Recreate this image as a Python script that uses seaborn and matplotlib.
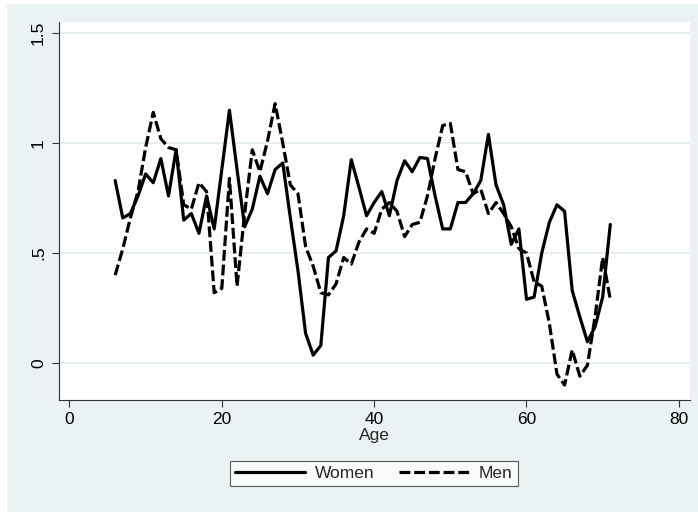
import numpy as np
import pandas as pd
import seaborn as sns
import matplotlib.pyplot as plt
from matplotlib.lines import Line2D
from matplotlib.patches import Rectangle

# ages 6..71
age = list(range(6, 72))

women = [0.83, 0.66, 0.68, 0.76, 0.86, 0.82, 0.93, 0.76, 0.97, 0.65,
         0.68, 0.59, 0.76, 0.61, 0.88, 1.15, 0.88, 0.62, 0.70, 0.85,
         0.77, 0.88, 0.91, 0.66, 0.42, 0.135, 0.036, 0.08, 0.48, 0.51,
         0.67, 0.925, 0.80, 0.67, 0.73, 0.78, 0.67, 0.83, 0.92, 0.87,
         0.935, 0.93, 0.76, 0.61, 0.61, 0.73, 0.73, 0.77, 0.83, 1.04,
         0.81, 0.72, 0.54, 0.61, 0.29, 0.30, 0.50, 0.64, 0.72, 0.69,
         0.33, 0.21, 0.097, 0.165, 0.30, 0.63]

men = [0.40, 0.52, 0.66, 0.78, 0.98, 1.14, 1.02, 0.98, 0.97, 0.72,
       0.70, 0.82, 0.78, 0.32, 0.34, 0.84, 0.35, 0.68, 0.97, 0.87,
       1.01, 1.18, 1.00, 0.81, 0.77, 0.53, 0.44, 0.32, 0.31, 0.36,
       0.48, 0.45, 0.55, 0.61, 0.59, 0.70, 0.73, 0.69, 0.575, 0.63,
       0.64, 0.76, 0.93, 1.08, 1.09, 0.88, 0.87, 0.77, 0.79, 0.68,
       0.73, 0.68, 0.62, 0.52, 0.50, 0.37, 0.35, 0.18, -0.05, -0.10,
       0.06, -0.06, -0.01, 0.21, 0.48, 0.29]

x_ticks = [0, 20, 40, 60, 80]
y_ticks = [0, 0.5, 1, 1.5]
y_ticklabels = ["0", ".5", "1", "1.5"]

df = pd.DataFrame({
    "Age": age * 2,
    "value": women + men,
    "group": ["Women"] * len(age) + ["Men"] * len(age),
})

bg = "#eaf2f3"
fs = 12.5
sns.set_style("white")
plt.rcParams["font.family"] = ["Liberation Sans", "DejaVu Sans"]

fig = plt.figure(figsize=(6.98, 5.12), dpi=100, facecolor="white")
fig.patches.append(Rectangle((7 / 698, 0), 1 - 7 / 698, 1 - 4 / 512,
                             transform=fig.transFigure, facecolor=bg,
                             edgecolor="none", zorder=-10))
ax = fig.add_axes([58.5 / 698, 1 - 400 / 512, (689.5 - 58.5) / 698, (400 - 22) / 512])
ax.set_facecolor("white")

sns.lineplot(data=df, x="Age", y="value", style="group",
             dashes={"Women": "", "Men": (3.4, 1.2)},
             color="black", linewidth=2.3, legend=False, ax=ax)

ax.set_xlim(-1.44, 81.4)
ax.set_ylim(-0.168, 1.551)
ax.set_xticks(x_ticks)
ax.set_yticks(y_ticks)
ax.set_yticklabels(y_ticklabels, rotation=90, va="center")
ax.tick_params(axis="both", direction="out", length=5, width=0.8,
               color="#333333", labelsize=fs, labelcolor="black", pad=4)
ax.tick_params(axis="both", which="both", bottom=True, left=True)
for y in y_ticks:
    ax.axhline(y, color="#e3edf0", linewidth=1.2, zorder=0)

for s in ["top", "right"]:
    ax.spines[s].set_visible(False)
for s in ["left", "bottom"]:
    ax.spines[s].set_color("#333333")
    ax.spines[s].set_linewidth(0.8)

ax.set_xlabel("Age", fontsize=fs, labelpad=0.5)
ax.set_ylabel("")

handles = [Line2D([], [], color="black", linewidth=2.3, linestyle="-"),
           Line2D([], [], color="black", linewidth=2.3, dashes=(3.4, 1.2))]
leg = fig.legend(handles, ["Women", "Men"], loc="center",
                 bbox_to_anchor=(374 / 698, 1 - 473.5 / 512), ncol=2,
                 frameon=True, fancybox=False, fontsize=fs,
                 handlelength=4.0, columnspacing=1.4, handletextpad=0.6,
                 borderpad=0.3, borderaxespad=0)
leg.get_frame().set_edgecolor("#333333")
leg.get_frame().set_linewidth(0.8)

fig.savefig("out.png", dpi=100, facecolor=fig.get_facecolor())
